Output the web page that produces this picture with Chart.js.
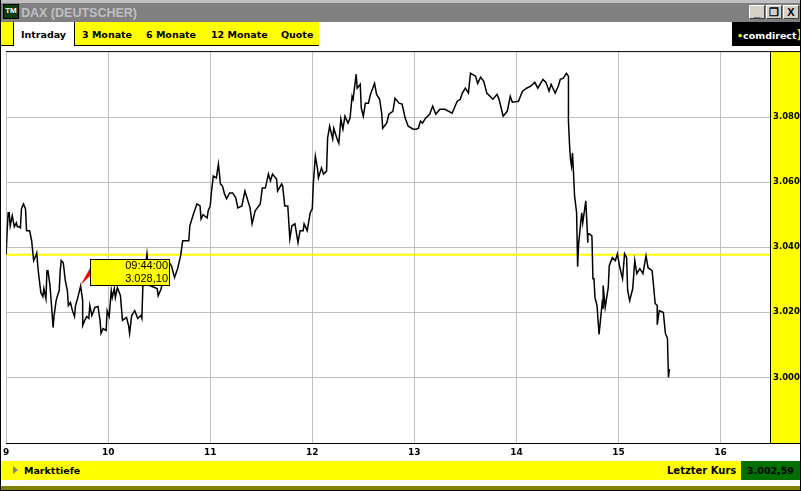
<!DOCTYPE html>
<html>
<head>
<meta charset="utf-8">
<title>DAX (DEUTSCHER)</title>
<script src="https://cdn.jsdelivr.net/npm/chart.js@4/dist/chart.umd.min.js"></script>
<style>
  html, body { margin: 0; padding: 0; background: #fff; overflow: hidden; }
  #page { position: relative; width: 801px; height: 491px; overflow: hidden; background: #fff; font-family: "DejaVu Sans", sans-serif; }
  #page div, #page span { position: absolute; white-space: nowrap; }
  #chart { position: absolute; left: 0; top: 44px; }
  .tab { top: 22px; height: 23px; line-height: 25px; font-size: 9.5px; font-weight: bold; color: #000; }
  .winBtn { top: 5px; width: 16px; height: 14px; background: #d4d0c8; border-top: 1px solid #fff; border-left: 1px solid #fff; border-right: 1px solid #404040; border-bottom: 1px solid #404040; box-sizing: border-box; font: bold 11px/12px "Liberation Sans", sans-serif; text-align: center; color: #000; }
</style>
</head>
<body>
<div id="page">
  <div style="left:0;top:0;width:801px;height:3px;background:#c0c0c0"></div>
  <div style="left:0;top:3px;width:801px;height:19px;background:#808080"></div>
  <div style="left:3px;top:4px;width:16px;height:15px;background:#0b3d0b;border:1px solid #000;box-sizing:border-box;color:#fff;font:bold 8px/11px 'Liberation Sans',sans-serif;text-align:center">TM</div>
  <div style="left:21px;top:3px;font:bold 12.5px/20px 'Liberation Sans',sans-serif;color:#c0c0c0">DAX (DEUTSCHER)</div>
  <div class="winBtn" style="left:749px">_</div>
  <div class="winBtn" style="left:766px">&#10064;</div>
  <div class="winBtn" style="left:783px">X</div>

  <div style="left:1px;top:22px;width:318px;height:23px;background:#ff0;border-bottom:1px solid #000"></div>
  <div style="left:13px;top:22px;width:60px;height:24px;background:#fff;border-left:1px solid #000;border-right:1px solid #000"></div>
  <div class="tab" style="left:21px">Intraday</div>
  <div class="tab" style="left:82px">3 Monate</div>
  <div class="tab" style="left:146px">6 Monate</div>
  <div class="tab" style="left:211px">12 Monate</div>
  <div class="tab" style="left:281px">Quote</div>

  <div style="left:732px;top:22px;width:69px;height:24px;background:#000"></div>
  <div style="left:737px;top:22px;line-height:25px;font-size:9.5px;font-weight:bold;color:#fff"><span style="position:static;color:#ff0">&#8226;</span>comdirect<span style="position:static;color:#ff0;font-size:13px">)</span></div>

  <canvas id="chart" width="801" height="417"></canvas>

  <div style="left:1px;top:461px;width:740px;height:19px;background:#ff0"></div>
  <div style="left:13px;top:466px;width:0;height:0;border-left:5px solid #808080;border-top:4px solid transparent;border-bottom:4px solid transparent"></div>
  <div style="left:24px;top:461px;line-height:19px;font-size:9.5px;font-weight:bold;color:#000">Markttiefe</div>
  <div style="left:667px;top:461px;line-height:19px;font-size:10px;font-weight:bold;color:#000">Letzter Kurs</div>
  <div style="left:741px;top:461px;width:59px;height:19px;background:#007000;line-height:19px;text-align:center;font-size:9.5px;font-weight:bold;color:#000">3.002,59</div>
  <div style="left:1px;top:486px;width:799px;height:4px;background:#808000"></div>
  <div style="left:0;top:0;width:801px;height:491px;box-sizing:border-box;border:1px solid #000;border-top:none"></div>
</div>

<script>
'use strict';

// Kurs over the trading day, hour of day / index points
const hours = [
  9.00, 9.01, 9.02, 9.03, 9.04, 9.06, 9.08, 9.10, 9.11, 9.13, 9.14, 9.15, 9.17, 9.19, 9.20, 9.23, 9.25, 9.26, 9.27, 9.29,
  9.30, 9.31, 9.32, 9.34, 9.36, 9.37, 9.39, 9.40, 9.41, 9.43, 9.45, 9.46, 9.47, 9.49, 9.50, 9.52, 9.53, 9.54, 9.56, 9.58,
  9.60, 9.61, 9.63, 9.65, 9.67, 9.68, 9.70, 9.73, 9.75, 9.75, 9.77, 9.79, 9.81, 9.82, 9.84, 9.87, 9.90, 9.92, 9.93, 9.95,
  9.98, 9.99, 10.01, 10.03, 10.04, 10.06, 10.07, 10.09, 10.12, 10.14, 10.18, 10.20, 10.21, 10.23, 10.26, 10.29, 10.32, 10.33, 10.34, 10.36,
  10.38, 10.41, 10.48, 10.49, 10.52, 10.53, 10.60, 10.62, 10.65, 10.68, 10.71, 10.73, 10.76, 10.79, 10.80, 10.83, 10.87, 10.90, 10.91, 10.93,
  10.97, 10.98, 11.00, 11.01, 11.03, 11.06, 11.08, 11.10, 11.12, 11.14, 11.16, 11.19, 11.22, 11.25, 11.27, 11.31, 11.34, 11.36, 11.39, 11.41,
  11.44, 11.49, 11.51, 11.54, 11.57, 11.59, 11.61, 11.65, 11.66, 11.70, 11.71, 11.73, 11.76, 11.78, 11.80, 11.83, 11.86, 11.88, 11.91, 11.92,
  11.95, 11.98, 12.00, 12.01, 12.03, 12.05, 12.06, 12.09, 12.11, 12.14, 12.15, 12.17, 12.20, 12.21, 12.24, 12.26, 12.28, 12.30, 12.32, 12.35,
  12.37, 12.39, 12.40, 12.43, 12.44, 12.47, 12.48, 12.50, 12.52, 12.55, 12.57, 12.61, 12.63, 12.66, 12.68, 12.69, 12.73, 12.75, 12.79, 12.81,
  12.85, 12.88, 12.91, 12.94, 12.99, 13.02, 13.04, 13.06, 13.08, 13.11, 13.15, 13.18, 13.21, 13.25, 13.30, 13.37, 13.42, 13.45, 13.47, 13.50,
  13.53, 13.55, 13.60, 13.62, 13.65, 13.68, 13.71, 13.77, 13.81, 13.83, 13.87, 13.91, 13.94, 13.96, 14.02, 14.06, 14.10, 14.14, 14.18, 14.21,
  14.26, 14.29, 14.32, 14.34, 14.38, 14.41, 14.43, 14.46, 14.49, 14.51, 14.51, 14.52, 14.53, 14.54, 14.55, 14.56, 14.57, 14.59, 14.60, 14.61,
  14.64, 14.65, 14.68, 14.70, 14.70, 14.74, 14.75, 14.76, 14.77, 14.79, 14.81, 14.84, 14.85, 14.85, 14.87, 14.90, 14.91, 14.94, 14.97, 14.99,
  15.01, 15.04, 15.06, 15.08, 15.09, 15.11, 15.14, 15.16, 15.18, 15.21, 15.24, 15.27, 15.29, 15.33, 15.36, 15.38, 15.38, 15.40, 15.44, 15.46,
  15.48, 15.49, 15.50
];

const prices = [
  3037.7, 3045.1, 3050.6, 3050.6, 3046.6, 3049.7, 3046.3, 3047.5, 3046.3, 3046.3, 3046.0, 3051.8, 3053.3, 3051.8, 3045.1, 3045.1, 3042.0, 3038.9, 3035.9, 3037.4,
  3038.3, 3034.3, 3031.3, 3026.1, 3024.8, 3027.3, 3024.2, 3032.8, 3032.8, 3028.2, 3019.9, 3015.3, 3019.0, 3023.6, 3024.8, 3026.7, 3032.8, 3035.9, 3035.2, 3029.7,
  3026.7, 3022.1, 3023.0, 3020.5, 3018.7, 3022.1, 3024.2, 3028.1, 3023.6, 3015.9, 3017.5, 3018.7, 3018.1, 3022.1, 3019.0, 3021.5, 3021.8, 3017.5, 3013.5, 3015.0,
  3014.4, 3020.5, 3018.7, 3026.7, 3024.5, 3027.3, 3024.5, 3027.6, 3025.1, 3017.5, 3018.4, 3015.9, 3013.5, 3019.0, 3020.5, 3018.1, 3019.0, 3018.1, 3028.2, 3032.8,
  3038.0, 3028.2, 3027.3, 3025.1, 3027.3, 3029.7, 3035.2, 3034.3, 3030.7, 3033.4, 3037.4, 3042.0, 3042.0, 3042.0, 3046.6, 3049.7, 3053.3, 3052.7, 3048.7, 3050.0,
  3049.0, 3051.2, 3052.7, 3056.4, 3061.9, 3061.3, 3065.6, 3059.5, 3058.8, 3056.4, 3054.9, 3056.7, 3056.7, 3055.2, 3052.1, 3052.7, 3057.3, 3055.2, 3052.1, 3047.2,
  3051.2, 3053.3, 3058.2, 3058.2, 3062.5, 3060.4, 3062.5, 3061.0, 3057.3, 3059.5, 3058.8, 3052.7, 3052.7, 3042.6, 3046.6, 3047.2, 3041.4, 3045.1, 3045.1, 3047.2,
  3045.1, 3050.6, 3051.8, 3059.5, 3068.0, 3064.4, 3061.3, 3064.4, 3062.5, 3063.4, 3073.6, 3077.2, 3073.3, 3076.6, 3073.6, 3072.0, 3079.4, 3076.3, 3080.3, 3078.2,
  3079.7, 3086.4, 3085.5, 3093.2, 3088.9, 3090.1, 3082.8, 3080.3, 3084.3, 3084.3, 3087.0, 3090.4, 3087.0, 3085.5, 3081.2, 3076.6, 3078.2, 3080.9, 3081.8, 3085.8,
  3084.3, 3084.0, 3079.7, 3077.2, 3076.3, 3076.3, 3076.6, 3078.8, 3078.2, 3079.7, 3080.9, 3083.4, 3080.9, 3082.4, 3082.4, 3081.2, 3084.9, 3085.5, 3087.4, 3088.9,
  3087.4, 3093.5, 3092.6, 3090.4, 3092.3, 3091.0, 3087.4, 3085.5, 3087.0, 3085.5, 3080.3, 3081.8, 3086.4, 3084.6, 3084.9, 3088.0, 3088.9, 3089.5, 3090.7, 3088.9,
  3091.6, 3090.7, 3088.0, 3090.1, 3087.4, 3089.5, 3091.6, 3092.0, 3093.5, 3092.6, 3078.8, 3072.0, 3067.1, 3065.0, 3069.0, 3062.5, 3055.8, 3050.6, 3034.0, 3041.1,
  3050.6, 3047.5, 3054.3, 3041.4, 3044.4, 3043.5, 3030.3, 3030.3, 3024.5, 3022.1, 3013.2, 3022.7, 3021.1, 3028.2, 3021.5, 3027.6, 3034.3, 3036.8, 3035.9, 3038.0,
  3034.3, 3030.3, 3038.0, 3036.8, 3026.7, 3023.6, 3027.3, 3035.9, 3031.9, 3033.4, 3031.9, 3037.4, 3033.7, 3032.8, 3022.7, 3022.1, 3016.2, 3020.5, 3019.9, 3013.5,
  3012.0, 3000.0, 3002.6
];

const previousClose = 3037.7;
const xRange = [9, 16.485];
const yRange = [2979.5, 3100];
const xTickValues = [9, 10, 11, 12, 13, 14, 15, 16];
const xTickLabels = ['9', '10', '11', '12', '13', '14', '15', '16'];
const yTickValues = [3000, 3020, 3040, 3060, 3080];
const yTickLabels = ['3.000', '3.020', '3.040', '3.060', '3.080'];

const calloutHour = 9.73;
const calloutPrice = 3028.1;
const calloutTime = '09:44:00';
const calloutText = '3.028,10';

const xTickFont = { family: '"DejaVu Sans"', size: 9, weight: 'bold' };
const yTickFont = { family: '"DejaVu Sans"', size: 8.5, weight: 'bold' };

// yellow price panel goes under the tick labels, black frame lines over the grid
const framePlugin = {
  id: 'frame',
  beforeDraw: chart => {
    const { ctx, chartArea: { top, bottom, right }, width } = chart;
    ctx.save();
    ctx.fillStyle = '#ffff00';
    ctx.fillRect(right, top, width - right, bottom - top);
    ctx.restore();
  },
  beforeDatasetsDraw: chart => {
    const { ctx, chartArea: { top, bottom, right }, width } = chart;
    ctx.save();
    ctx.fillStyle = '#000';
    ctx.fillRect(6, top - 1, width - 6, 1);
    ctx.fillRect(6, bottom - 1, width - 6, 1);
    ctx.fillRect(right, top, 1, bottom - top);
    ctx.restore();
  }
};

// the 09:44 callout with its red pointer
const calloutPlugin = {
  id: 'callout',
  afterDatasetsDraw: chart => {
    const { ctx, scales: { x, y } } = chart;
    const px = x.getPixelForValue(calloutHour);
    const py = y.getPixelForValue(calloutPrice);
    const left = Math.round(px) + 9;
    const boxTop = Math.round(py) - 27;

    ctx.save();
    ctx.fillStyle = '#ff0000';
    ctx.beginPath();
    ctx.moveTo(px, py - 1);
    ctx.lineTo(left, boxTop + 9);
    ctx.lineTo(left, boxTop + 17);
    ctx.closePath();
    ctx.fill();

    ctx.fillStyle = '#ffff00';
    ctx.fillRect(left, boxTop, 80, 27);
    ctx.strokeStyle = '#000';
    ctx.lineWidth = 1;
    ctx.strokeRect(left + 0.5, boxTop + 0.5, 79, 26);

    ctx.fillStyle = '#000';
    ctx.font = '11px "Liberation Sans"';
    ctx.textAlign = 'right';
    ctx.textBaseline = 'middle';
    ctx.fillText(calloutTime, left + 78, boxTop + 7);
    ctx.fillText(calloutText, left + 78, boxTop + 19.5);
    ctx.restore();
  }
};

new Chart(document.getElementById('chart').getContext('2d'), {
  type: 'line',
  data: {
    datasets: [
      {
        data: hours.map((h, i) => ({ x: h, y: prices[i] })),
        borderColor: '#000',
        borderWidth: 1.5,
        pointRadius: 0,
        tension: 0,
        order: 1
      },
      {
        data: xRange.map(h => ({ x: h, y: previousClose })),
        borderColor: '#ffff00',
        borderWidth: 2,
        pointRadius: 0,
        order: 2
      }
    ]
  },
  plugins: [framePlugin, calloutPlugin],
  options: {
    responsive: false,
    animation: false,
    layout: { padding: { left: 6, top: 5, right: 0, bottom: 0 } },
    plugins: { legend: { display: false }, tooltip: { enabled: false } },
    scales: {
      x: {
        type: 'linear',
        min: xRange[0],
        max: xRange[1],
        afterBuildTicks: scale => { scale.ticks = xTickValues.map(value => ({ value })); },
        afterFit: scale => { scale.height = 17; },
        grid: { color: '#c0c0c0', lineWidth: 1, drawTicks: false },
        border: { display: false },
        ticks: {
          color: '#000',
          font: xTickFont,
          padding: 3,
          maxRotation: 0,
          autoSkip: false,
          callback: value => xTickLabels[xTickValues.indexOf(value)]
        }
      },
      y: {
        position: 'right',
        min: yRange[0],
        max: yRange[1],
        afterBuildTicks: scale => { scale.ticks = yTickValues.map(value => ({ value })); },
        afterFit: scale => { scale.width = 31; },
        grid: { color: '#c0c0c0', lineWidth: 1, drawTicks: false },
        border: { display: false },
        ticks: {
          color: '#000',
          font: yTickFont,
          padding: 3,
          autoSkip: false,
          callback: value => yTickLabels[yTickValues.indexOf(value)]
        }
      }
    }
  }
});
</script>
</body>
</html>
